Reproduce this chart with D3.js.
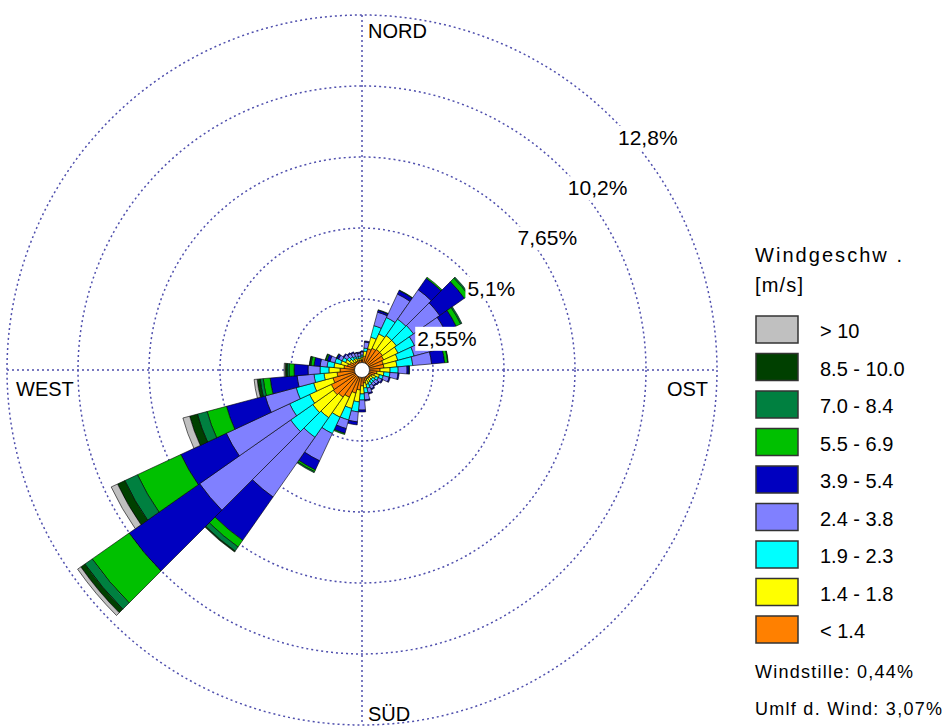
<!DOCTYPE html>
<html>
<head>
<meta charset="utf-8">
<script src="https://cdn.jsdelivr.net/npm/d3@7"></script>
<style>
body { margin: 0; background: #fff; }
text { font-family: "Liberation Sans", Arial, sans-serif; fill: #000; }
</style>
</head>
<body>
<svg width="946" height="727"></svg>
<script>
// wind directions (sector centres, degrees)
var directions = d3.range(0, 360, 10);

// speed classes, inner to outer
var classes = ["< 1.4", "1.4 - 1.8", "1.9 - 2.3", "2.4 - 3.8", "3.9 - 5.4", "5.5 - 6.9", "7.0 - 8.4", "8.5 - 10.0", "> 10"];
var colors = ["#ff8000", "#ffff00", "#00ffff", "#8080ff", "#0000c0", "#00c000", "#008040", "#004000", "#c0c0c0"];

// frequencies in % per direction (0..350) for each class
var cls1 = [0.36,0.50,0.79,0.86,0.90,0.90,0.86,0.79,0.79,0.65,0.54,0.47,0.40,0.36,0.36,0.36,0.40,0.47,0.57,0.72,0.86,1.08,1.19,1.26,1.22,1.08,0.90,0.79,0.65,0.54,0.47,0.40,0.36,0.36,0.36,0.36];
var cls2 = [0.11,0.18,0.43,0.57,0.61,0.61,0.57,0.54,0.47,0.36,0.25,0.18,0.14,0.11,0.11,0.14,0.14,0.18,0.29,0.43,0.57,0.79,0.90,0.90,0.86,0.72,0.47,0.40,0.36,0.25,0.18,0.14,0.11,0.11,0.07,0.07];
var cls3 = [0.07,0.11,0.43,0.65,0.72,0.75,0.65,0.61,0.57,0.29,0.22,0.14,0.11,0.11,0.11,0.11,0.14,0.18,0.22,0.36,0.43,0.65,0.86,0.97,0.79,0.65,0.36,0.32,0.25,0.22,0.14,0.11,0.11,0.07,0.07,0.07];
var cls4 = [0.11,0.22,0.50,0.93,1.29,1.15,1.22,1.01,0.68,0.32,0.29,0.22,0.14,0.14,0.11,0.14,0.18,0.25,0.36,0.36,0.32,1.08,2.62,3.99,2.51,1.15,0.61,0.43,0.25,0.18,0.14,0.14,0.14,0.14,0.14,0.11];
var cls5 = [0.02,0.04,0.07,0.14,0.50,1.08,0.43,0.43,0.47,0.07,0.04,0.04,0.04,0.04,0.04,0.04,0.04,0.04,0.07,0.11,0.18,0.36,1.90,3.09,1.80,1.44,0.97,0.50,0.22,0.11,0.07,0.04,0.04,0.04,0.02,0.04];
var cls6 = [0,0,0.02,0.02,0.05,0.18,0.18,0.11,0.11,0.02,0,0,0,0,0,0,0,0,0,0,0.04,0.07,0.29,1.62,1.72,0.72,0.25,0.18,0.11,0.05,0.02,0,0,0,0,0];
var cls7 = [0,0,0,0,0,0.05,0.05,0.04,0.02,0,0,0,0,0,0,0,0,0,0,0,0,0.04,0.18,0.32,0.50,0.36,0.11,0.07,0.04,0.02,0,0,0,0,0,0];
var cls8 = [0,0,0,0,0,0,0,0,0,0,0,0,0,0,0,0,0,0,0,0,0,0,0.04,0.18,0.29,0.29,0.11,0.07,0.02,0,0,0,0,0,0,0];
var cls9 = [0,0,0,0,0,0,0,0,0,0,0,0,0,0,0,0,0,0,0,0,0,0,0,0.14,0.25,0.25,0.11,0.04,0,0,0,0,0,0,0,0];

var ringTicks = [2.55, 5.1, 7.65, 10.2, 12.75];
var ringLabels = ["2,55%", "5,1%", "7,65%", "10,2%", "12,8%"];
var calm = "Windstille: 0,44%";
var variable = "Umlf d. Wind: 3,07%";

var series = [cls1, cls2, cls3, cls4, cls5, cls6, cls7, cls8, cls9];

var svg = d3.select("svg"),
    cx = 362, cy = 370, R = 355;

var r = d3.scaleLinear().domain([0, 12.75]).range([0, R]);
var rad = Math.PI / 180;

var g = svg.append("g").attr("transform", "translate(" + cx + "," + cy + ")");

// grid
var gridCol = "#4f4fad";
g.selectAll(".ring")
    .data(ringTicks)
    .enter().append("circle")
    .attr("r", function(d) { return r(d); })
    .attr("fill", "none")
    .attr("stroke", gridCol)
    .attr("stroke-width", 1.5)
    .attr("stroke-dasharray", "2,3");

g.append("line").attr("x1", 0).attr("x2", 0).attr("y1", -R).attr("y2", R)
    .attr("stroke", gridCol).attr("stroke-width", 1.5).attr("stroke-dasharray", "2,3");
g.append("line").attr("y1", 0).attr("y2", 0).attr("x1", -R).attr("x2", R)
    .attr("stroke", gridCol).attr("stroke-width", 1.5).attr("stroke-dasharray", "2,3");

// stacked sectors
var segs = [];
directions.forEach(function(dir, i) {
    var cum = 0;
    series.forEach(function(s, k) {
        var v = s[i];
        if (v > 0) segs.push({dir: dir, k: k, y0: cum, y1: cum + v});
        cum += v;
    });
});

var arc = d3.arc()
    .innerRadius(function(d) { return r(d.y0); })
    .outerRadius(function(d) { return r(d.y1); })
    .startAngle(function(d) { return (d.dir - 5) * rad; })
    .endAngle(function(d) { return (d.dir + 5) * rad; });

g.selectAll(".seg")
    .data(segs)
    .enter().append("path")
    .attr("class", "seg")
    .attr("d", arc)
    .attr("fill", function(d) { return colors[d.k]; })
    .attr("stroke", "#000")
    .attr("stroke-width", 0.6)
    .attr("stroke-linejoin", "round");

// centre hole
g.append("circle").attr("r", 7.5).attr("fill", "#fff").attr("stroke", "#222").attr("stroke-width", 0.8);

// ring labels along 45 deg
ringTicks.forEach(function(t, i) {
    var p = r(t) * Math.SQRT1_2;
    var lbl = svg.append("g");
    var txt = lbl.append("text")
        .attr("x", cx + p + 5)
        .attr("y", cy - p + 26)
        .style("font-size", "21px")
        .text(ringLabels[i]);
    var bb = txt.node().getBBox();
    lbl.insert("rect", "text")
        .attr("x", bb.x - 2).attr("y", bb.y)
        .attr("width", bb.width + 3).attr("height", bb.height + 1)
        .attr("fill", "#fff");
});

// compass labels
svg.append("text").attr("x", cx + 6).attr("y", 38).style("font-size", "20px").text("NORD");
svg.append("text").attr("x", 708).attr("y", 396).attr("text-anchor", "end").style("font-size", "20px").text("OST");
svg.append("text").attr("x", cx + 6).attr("y", 721).style("font-size", "20px").text("SÜD");
svg.append("text").attr("x", 16).attr("y", 396).style("font-size", "20px").text("WEST");

// legend
var lg = svg.append("g");
lg.append("text").attr("x", 755).attr("y", 262).style("font-size", "20px")
    .attr("textLength", 147).attr("lengthAdjust", "spacing").text("Windgeschw .");
lg.append("text").attr("x", 755).attr("y", 292).style("font-size", "20px")
    .attr("textLength", 48).attr("lengthAdjust", "spacing").text("[m/s]");

var legendItems = classes.map(function(c, k) { return {label: c, color: colors[k]}; }).reverse();
var ly = d3.scalePoint().domain(legendItems.map(function(d) { return d.label; })).range([316, 616]);

lg.selectAll(".lbox")
    .data(legendItems)
    .enter().append("rect")
    .attr("x", 756)
    .attr("y", function(d) { return ly(d.label); })
    .attr("width", 42)
    .attr("height", 27)
    .attr("fill", function(d) { return d.color; })
    .attr("stroke", "#333")
    .attr("stroke-width", 1.5);

lg.selectAll(".ltxt")
    .data(legendItems)
    .enter().append("text")
    .attr("x", 820)
    .attr("y", function(d) { return ly(d.label) + 22; })
    .style("font-size", "20px")
    .text(function(d) { return d.label; });

lg.append("text").attr("x", 755).attr("y", 678).style("font-size", "18px")
    .attr("textLength", 158).attr("lengthAdjust", "spacing").text(calm);
lg.append("text").attr("x", 755).attr("y", 715).style("font-size", "18px")
    .attr("textLength", 187).attr("lengthAdjust", "spacing").text(variable);
</script>
</body>
</html>
